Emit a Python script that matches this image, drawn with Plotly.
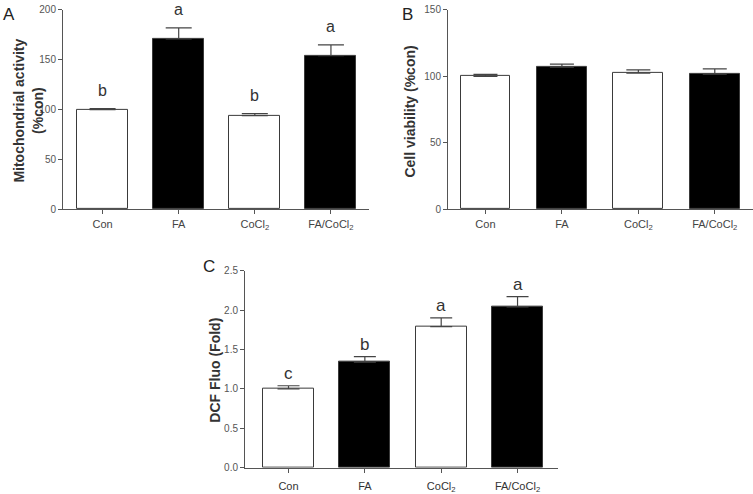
import plotly.graph_objects as go

categories = ["Con", "FA", "CoCl<sub>2</sub>", "FA/CoCl<sub>2</sub>"]
fills = ["white", "black", "white", "black"]

mito_vals = [100, 171, 94, 154]
mito_err = [1, 11, 2, 11]
mito_letters = ["b", "a", "b", "a"]

viab_vals = [100, 107, 102.4, 101.7]
viab_err = [1.5, 2.2, 2.5, 3.9]

dcf_vals = [1.0, 1.34, 1.79, 2.04]
dcf_err = [0.04, 0.07, 0.11, 0.13]
dcf_letters = ["c", "b", "a", "a"]

W, H = 753, 494
def px(x0, x1):
    return [x0 / W, min(1.0, x1 / W)]
def py(top, bottom):
    return [(H - bottom) / H, min(1.0, (H - top) / H)]

fig = go.Figure()
xs = list(range(len(categories)))
AX = "#555555"
TICKC = "#444444"

def add_bars(vals, errs, xa, ya, width, cap):
    fig.add_trace(go.Bar(
        x=xs, y=vals, width=width, xaxis=xa, yaxis=ya,
        marker=dict(color=fills, line=dict(color="#3a3a3a", width=1)),
        error_y=dict(type="data", symmetric=False, array=errs,
                     arrayminus=[0] * len(errs), color="#444444",
                     thickness=1.2, width=cap),
        showlegend=False))

add_bars(mito_vals, mito_err, "x", "y", 0.67, 13)
add_bars(viab_vals, viab_err, "x2", "y2", 0.65, 12)
add_bars(dcf_vals, dcf_err, "x3", "y3", 0.67, 11)

xcommon = dict(tickvals=xs, ticktext=categories, showline=True, linecolor=AX,
               linewidth=1, ticks="outside", ticklen=4, tickcolor=AX,
               showgrid=False, zeroline=False, fixedrange=True)
ycommon = dict(showline=True, linecolor=AX, linewidth=1, ticks="outside",
               ticklen=4, tickcolor=AX, showgrid=False, zeroline=False,
               fixedrange=True,
               tickfont=dict(size=10, color="#555555", family="Liberation Sans"))

fig.update_layout(
    width=W, height=H, margin=dict(l=0, r=0, t=0, b=0),
    plot_bgcolor="white", paper_bgcolor="white", bargap=0,
    font=dict(family="Liberation Sans, Arial", color="#444444"),
    xaxis=dict(domain=px(63, 369), range=[-0.52, 3.5], anchor="y",
               tickfont=dict(size=11, color=TICKC), **xcommon),
    yaxis=dict(domain=py(5, 209), range=[0, 200], tickvals=[0, 50, 100, 150, 200],
               anchor="x", **ycommon),
    xaxis2=dict(domain=px(448, 753), range=[-0.49, 3.5], anchor="y2",
                tickfont=dict(size=11, color=TICKC), **xcommon),
    yaxis2=dict(domain=py(5, 209), range=[0, 150], tickvals=[0, 50, 100, 150],
                anchor="x2", **ycommon),
    xaxis3=dict(domain=px(245, 558), range=[-0.57, 3.53], anchor="y3",
                tickfont=dict(size=11, color="#333333", family="Liberation Sans"),
                ticklabelstandoff=4, **xcommon),
    yaxis3=dict(domain=py(271.7, 473.3), range=[0, 2.5],
                tickvals=[0, 0.5, 1.0, 1.5, 2.0, 2.5], tickformat=".1f",
                anchor="x3", **ycommon),
)

ann = []
for i in xs:
    ann.append(dict(x=i, y=mito_vals[i] + mito_err[i], xref="x", yref="y",
                    text=mito_letters[i], showarrow=False, yanchor="bottom",
                    yshift=8, font=dict(size=16, color="#333333")))
    ann.append(dict(x=i, y=dcf_vals[i] + dcf_err[i], xref="x3", yref="y3",
                    text=dcf_letters[i], showarrow=False, yanchor="bottom",
                    yshift=1, font=dict(size=17, color="#333333")))

def paper(xp, yp):
    return xp / W, (H - yp) / H

for txt, xp, yp, size in [("A", 9, 10, 17), ("B", 407, 10, 17), ("C", 209, 267, 17)]:
    x, y = paper(xp, yp)
    ann.append(dict(x=x, y=y, xref="paper", yref="paper", text=txt,
                    showarrow=False, xanchor="center", yanchor="middle",
                    font=dict(size=size, color="#222222")))

ytitles = [
    ("<b>Mitochondrial activity</b><br><b>(%con)</b>", 28, 108, 14),
    ("<b>Cell viability (%con)</b>", 410, 109, 14),
    ("<b>DCF Fluo (Fold)</b>", 215, 374, 14),
]
for txt, xp, yp, size in ytitles:
    x, y = paper(xp, yp)
    ann.append(dict(x=x, y=y, xref="paper", yref="paper", text=txt,
                    showarrow=False, textangle=-90, xanchor="center",
                    yanchor="middle",
                    font=dict(size=size, color="#333333")))

fig.update_layout(annotations=ann)
fig.write_html("out.html", config={"displayModeBar": False},
               post_script="document.body.style.margin='0';document.body.style.overflow='hidden';")
